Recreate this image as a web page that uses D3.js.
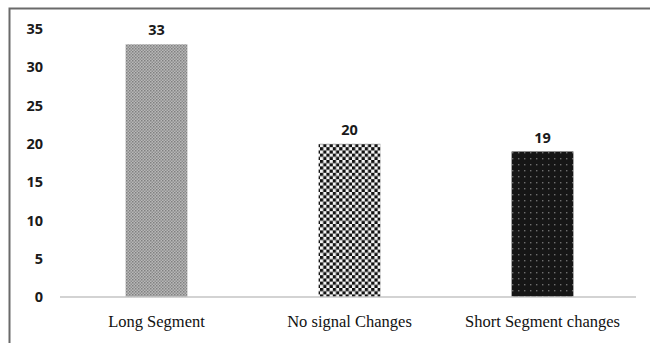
<!DOCTYPE html>
<html>
<head>
<meta charset="utf-8">
<script src="https://cdn.jsdelivr.net/npm/d3@7"></script>
<style>
  body { margin: 0; background: #fff; }
</style>
</head>
<body>
<script>
var categories = ["Long Segment", "No signal Changes", "Short Segment changes"];
var values = [33, 20, 19];
var yTicks = [0, 5, 10, 15, 20, 25, 30, 35];

var width = 650, height = 343;
var left = 60, right = 639, top0 = 29, bottom = 297;

var svg = d3.select('body').append('svg')
    .attr('width', width)
    .attr('height', height);

// patterns for the three bars
var defs = svg.append('defs');

var p1 = defs.append('pattern').attr('id', 'pat1')
    .attr('patternUnits', 'userSpaceOnUse').attr('width', 3).attr('height', 3);
p1.append('rect').attr('width', 3).attr('height', 3).attr('fill', '#b8b8b8');
p1.append('rect').attr('width', 1.5).attr('height', 1.5).attr('fill', '#808080');
p1.append('rect').attr('x', 1.5).attr('y', 1.5).attr('width', 1.5).attr('height', 1.5).attr('fill', '#8e8e8e');

var p2 = defs.append('pattern').attr('id', 'pat2')
    .attr('patternUnits', 'userSpaceOnUse').attr('width', 6.4).attr('height', 6.4);
p2.append('rect').attr('width', 6.4).attr('height', 6.4).attr('fill', '#f4f4f4');
p2.append('rect').attr('width', 3.2).attr('height', 3.2).attr('fill', '#111');
p2.append('rect').attr('x', 3.2).attr('y', 3.2).attr('width', 3.2).attr('height', 3.2).attr('fill', '#111');

var p3 = defs.append('pattern').attr('id', 'pat3')
    .attr('patternUnits', 'userSpaceOnUse').attr('width', 6).attr('height', 6);
p3.append('rect').attr('width', 6).attr('height', 6).attr('fill', '#161616');
p3.append('rect').attr('x', 2).attr('y', 2).attr('width', 1.4).attr('height', 1.4).attr('fill', '#6e6e6e');

var fills = ['url(#pat1)', 'url(#pat2)', 'url(#pat3)'];

// frame
svg.append('path')
    .attr('d', 'M9.5,343 L9.5,8.5 L650,8.5')
    .attr('fill', 'none')
    .attr('stroke', '#6a6a6a')
    .attr('stroke-width', 2);

var xScale = d3.scaleBand()
    .domain(categories)
    .range([left, right])
    .paddingInner(0.68)
    .paddingOuter(0.34);

var yScale = d3.scaleLinear()
    .domain([0, 35])
    .range([bottom, top0]);

// y tick labels
var yAxis = d3.axisLeft(yScale).tickValues(yTicks).tickSize(0).tickPadding(0);
var yG = svg.append('g')
    .attr('transform', 'translate(43,0)')
    .call(yAxis);
yG.select('.domain').remove();
yG.selectAll('text')
    .attr('font-family', 'Open Sans, Liberation Sans, sans-serif')
    .attr('font-weight', 'bold')
    .attr('font-size', 14.5)
    .attr('fill', '#1a1a1a');

// bars
svg.selectAll('rect.bar')
    .data(values)
    .enter().append('rect')
    .attr('class', 'bar')
    .attr('x', function(d, i) { return xScale(categories[i]); })
    .attr('width', xScale.bandwidth())
    .attr('y', function(d) { return yScale(d); })
    .attr('height', function(d) { return yScale(0) - yScale(d); })
    .attr('fill', function(d, i) { return fills[i]; });

// baseline + category labels
var xAxis = d3.axisBottom(xScale).tickSize(0).tickPadding(18);
var xG = svg.append('g')
    .attr('transform', 'translate(0,' + bottom + ')')
    .call(xAxis);
xG.select('.domain').attr('stroke', '#c4c4c4').attr('stroke-width', 1.5)
    .attr('d', 'M' + left + ',0H' + (right - 3));
xG.selectAll('text')
    .attr('font-family', 'Liberation Serif, Times New Roman, serif')
    .attr('font-size', 16.5)
    .attr('fill', '#111');

// value labels
svg.selectAll('text.val')
    .data(values)
    .enter().append('text')
    .attr('class', 'val')
    .attr('x', function(d, i) { return xScale(categories[i]) + xScale.bandwidth() / 2; })
    .attr('y', function(d) { return yScale(d) - 9; })
    .attr('text-anchor', 'middle')
    .attr('font-family', 'Open Sans, Liberation Sans, sans-serif')
    .attr('font-weight', 'bold')
    .attr('font-size', 14.5)
    .attr('fill', '#1a1a1a')
    .text(function(d) { return d; });
</script>
</body>
</html>
